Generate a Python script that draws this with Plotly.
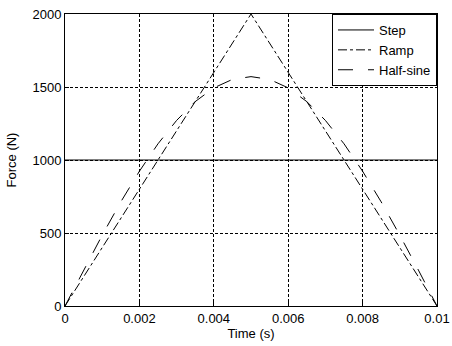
import plotly.graph_objects as go

step_t = [0.0, 0.01]
step_f = [1000, 1000]

ramp_t = [0.0, 0.005, 0.01]
ramp_f = [0, 2000, 0]

sine_t = [0.0, 0.0005, 0.001, 0.0015, 0.002, 0.0025, 0.003, 0.0035, 0.004, 0.0045, 0.005,
          0.0055, 0.006, 0.0065, 0.007, 0.0075, 0.008, 0.0085, 0.009, 0.0095, 0.01]
sine_f = [0, 246, 485, 713, 923, 1111, 1271, 1400, 1494, 1552, 1571,
          1552, 1494, 1400, 1271, 1111, 923, 713, 485, 246, 0]

x_ticks = [0, 0.002, 0.004, 0.006, 0.008, 0.01]
x_labels = ["0", "0.002", "0.004", "0.006", "0.008", "0.01"]
y_ticks = [0, 500, 1000, 1500, 2000]

fig = go.Figure()
fig.add_trace(go.Scatter(x=step_t, y=step_f, mode="lines", name="Step",
                         line=dict(color="black", width=1, dash="solid")))
fig.add_trace(go.Scatter(x=ramp_t, y=ramp_f, mode="lines", name="Ramp",
                         line=dict(color="black", width=1, dash="dashdot")))
fig.add_trace(go.Scatter(x=sine_t, y=sine_f, mode="lines", name="Half-sine",
                         line=dict(color="black", width=1, dash="longdash")))

axis_common = dict(showline=True, linecolor="black", linewidth=1, mirror=True,
                   showgrid=True, gridcolor="black", gridwidth=1, griddash="3px,2px",
                   zeroline=False, ticks="inside", ticklen=4, tickcolor="black",
                   automargin=False,
                   tickfont=dict(size=13, color="black"))

fig.update_layout(
    width=452, height=346,
    margin=dict(l=65, r=15, t=14, b=40),
    paper_bgcolor="white", plot_bgcolor="white",
    font=dict(family="Liberation Sans, Arial, sans-serif", size=13, color="black"),
    xaxis=dict(range=[0, 0.01], tickvals=x_ticks, ticktext=x_labels,
               title=dict(text="Time (s)", standoff=4, font=dict(size=13)), **axis_common),
    yaxis=dict(range=[0, 2000], tickvals=y_ticks,
               title=dict(text="Force (N)", standoff=12, font=dict(size=13)), **axis_common),
    legend=dict(x=1, y=1, xanchor="right", yanchor="top", bgcolor="white",
                bordercolor="black", borderwidth=1, font=dict(size=13),
                tracegroupgap=0, itemwidth=36),
    showlegend=True,
)

fig.write_html("out.html")
